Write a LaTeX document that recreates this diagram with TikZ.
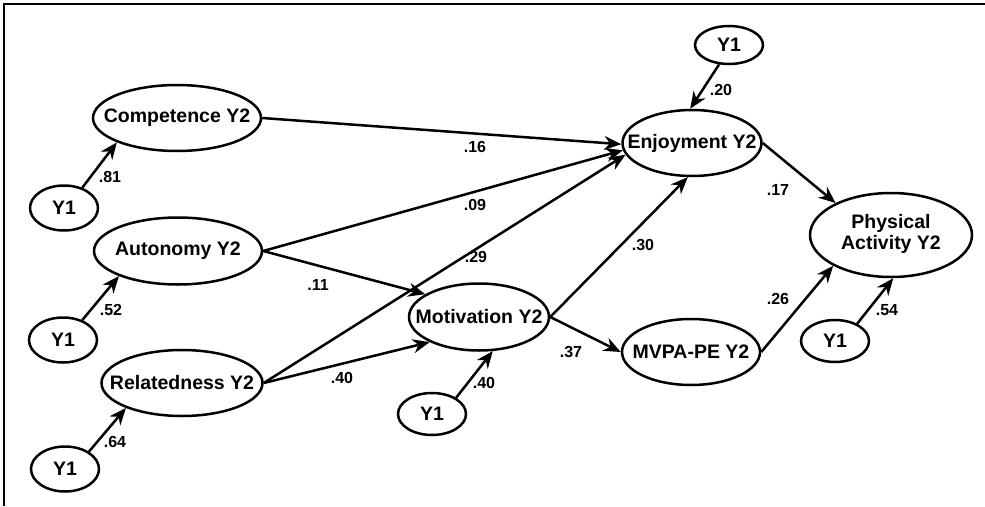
\documentclass[tikz,border=0pt]{standalone}
\usepackage{fontspec}
\setmainfont{Liberation Sans}
\usetikzlibrary{arrows.meta,shapes.geometric}

% text that does not widen the ellipse around it
\newcommand{\flatlabel}[1]{\makebox[0pt][c]{#1}}

\tikzset{
  latent/.style={ellipse, draw, line width=2.5pt, inner sep=0pt,
    font=\fontsize{19.5}{22}\selectfont\bfseries},
  path/.style={line width=2.5pt, -{Stealth[length=17pt,width=14pt]}},
  coef/.style={font=\fontsize{16}{18}\selectfont\bfseries, inner sep=0pt}
}

\begin{document}
\begin{tikzpicture}[x=1pt, y=-1pt]
  \useasboundingbox (0,0) rectangle (985,506);

  % frame lines along the top and left edges
  \draw[line width=2.5pt] (4,506) -- (4,4) -- (985,4);

  % Y2 constructs
  \node[latent, minimum width=168pt, minimum height=66pt] (comp) at (177,118) {\flatlabel{Competence Y2}};
  \node[latent, minimum width=168pt, minimum height=67pt] (aut)  at (178,251) {\flatlabel{Autonomy Y2}};
  \node[latent, minimum width=161pt, minimum height=66pt] (rel)  at (182,383) {\flatlabel{Relatedness Y2}};
  \node[latent, minimum width=140pt, minimum height=67pt] (mot)  at (479,317) {\flatlabel{Motivation Y2}};
  \node[latent, minimum width=139pt, minimum height=66pt] (enj)  at (692,143) {\flatlabel{Enjoyment Y2}};
  \node[latent, minimum width=138pt, minimum height=66pt] (mvpa) at (691,352) {\flatlabel{MVPA-PE Y2}};
  \node[latent, minimum width=162pt, minimum height=84pt] (pa)   at (891,235)
    {\flatlabel{\begin{tabular}{@{}c@{}}Physical\\[-1pt]Activity Y2\end{tabular}}};

  % Y1 stability terms
  \node[latent, minimum width=68pt, minimum height=45pt] (ycomp) at (64,208) {\flatlabel{Y1}};
  \node[latent, minimum width=68pt, minimum height=45pt] (yaut)  at (63,340) {\flatlabel{Y1}};
  \node[latent, minimum width=68pt, minimum height=45pt] (yrel)  at (65,469) {\flatlabel{Y1}};
  \node[latent, minimum width=68pt, minimum height=42pt] (ymot)  at (432,414) {\flatlabel{Y1}};
  \node[latent, minimum width=68pt, minimum height=38pt] (yenj)  at (729,45) {\flatlabel{Y1}};
  \node[latent, minimum width=68pt, minimum height=42pt] (ypa)   at (835,341) {\flatlabel{Y1}};

  % stability paths
  \draw[path] (ycomp.48) -- (comp.202);
  \draw[path] (yaut.46)  -- (aut.203);
  \draw[path] (yrel.36)  -- (rel.204);
  \draw[path] (ymot.34)  -- (mot.292);
  \draw[path] (yenj.243) -- (enj.93);
  \draw[path] (ypa.38)   -- (pa.273);

  % structural paths
  \draw[path] (comp.0) -- (enj.181);
  \draw[path] (aut.0)  -- (enj.186);
  \draw[path] (aut.0)  -- (mot.157);
  \draw[path] (rel.0)  -- (enj.190);
  \draw[path] (rel.0)  -- (mot.207);
  \draw[path] (mot.0)  -- (enj.263);
  \draw[path] (mot.0)  -- (mvpa.180);
  \draw[path] (enj.0)  -- (pa.150);
  \draw[path] (mvpa.0) -- (pa.208);

  % coefficients
  \node[coef] (c1)  at (110,177) {.81};
  \node[coef] (c2)  at (111,310) {.52};
  \node[coef] (c3)  at (115,442) {.64};
  \node[coef] (c4)  at (484,383) {.40};
  \node[coef] (c5)  at (721,90)  {.20};
  \node[coef] (c6)  at (887,310) {.54};
  \node[coef] (c7)  at (475,147) {.16};
  \node[coef] (c8)  at (475,205) {.09};
  \node[coef] (c9)  at (476,257) {.29};
  \node[coef] (c10) at (643,245) {.30};
  \node[coef] (c11) at (318,285) {.11};
  \node[coef] (c12) at (342,378) {.40};
  \node[coef] (c13) at (571,352) {.37};
  \node[coef] (c14) at (778,190) {.17};
  \node[coef] (c15) at (778,299) {.26};
\end{tikzpicture}
\end{document}
